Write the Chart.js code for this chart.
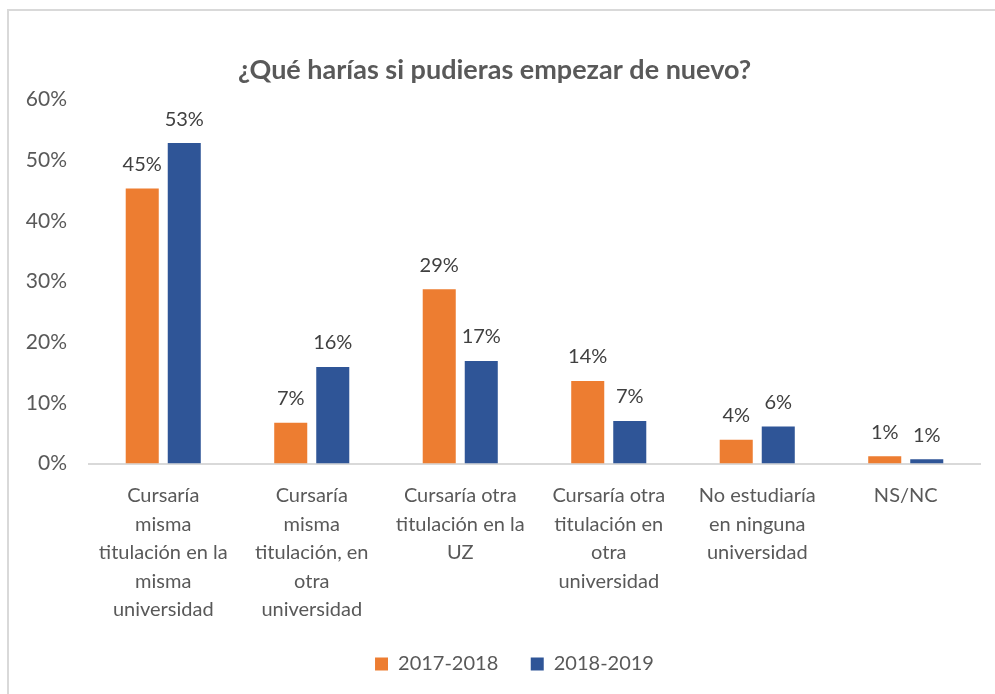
<!DOCTYPE html>
<html>
<head>
<meta charset="utf-8">
<script src="https://cdn.jsdelivr.net/npm/chart.js@4"></script>
<style>
  body { margin: 0; background: #fff; overflow: hidden; }
  #wrap { position: absolute; left: 7px; top: 9px; width: 1000px; height: 700px; border: 2px solid #d9d9d9; box-sizing: border-box; }
</style>
</head>
<body>
<div id="wrap"><canvas id="chart"></canvas></div>
<script>
// Datos del gráfico
const categorias = [
  ['Cursaría', 'misma', 'titulación en la', 'misma', 'universidad'],
  ['Cursaría', 'misma', 'titulación, en', 'otra', 'universidad'],
  ['Cursaría otra', 'titulación en la', 'UZ'],
  ['Cursaría otra', 'titulación en', 'otra', 'universidad'],
  ['No estudiaría', 'en ninguna', 'universidad'],
  ['NS/NC']
];
const curso2017 = [45.3, 6.7, 28.7, 13.6, 3.9, 1.2];
const curso2018 = [52.8, 15.9, 16.9, 7.0, 6.1, 0.7];
const series = ['2017-2018', '2018-2019'];

const gris = '#595959';
const fuente = 'Lato, "Open Sans", sans-serif';

// Etiquetas de datos encima de cada barra
const etiquetas = {
  id: 'etiquetas',
  afterLayout(chart) {
    // la leyenda del original está algo desplazada a la derecha
    chart.legend.left += 20;
    chart.legend.right += 20;
  },
  afterDatasetsDraw(chart) {
    const ctx = chart.ctx;
    ctx.save();
    ctx.font = '20px ' + fuente;
    ctx.fillStyle = '#404040';
    ctx.textAlign = 'center';
    ctx.textBaseline = 'bottom';
    chart.data.datasets.forEach((ds, i) => {
      chart.getDatasetMeta(i).data.forEach((bar, j) => {
        ctx.fillText(Math.round(ds.data[j]) + '%', bar.x, bar.y - 14);
      });
    });
    ctx.restore();
  }
};

new Chart(document.getElementById('chart'), {
  type: 'bar',
  data: {
    labels: categorias,
    datasets: [
      // espacios al final para separar más las dos entradas de la leyenda
      { label: series[0] + '    ', data: curso2017, backgroundColor: '#ED7D31', categoryPercentage: 0.566, barPercentage: 0.786 },
      { label: series[1], data: curso2018, backgroundColor: '#2F5597', categoryPercentage: 0.566, barPercentage: 0.786 }
    ]
  },
  options: {
    responsive: true,
    maintainAspectRatio: false,
    animation: false,
    layout: { padding: { left: 0, right: 25, top: 43, bottom: 23 } },
    plugins: {
      title: {
        display: true,
        text: '¿Qué harías si pudieras empezar de nuevo?',
        color: gris,
        font: { family: fuente, size: 27, weight: 'bold' },
        padding: { top: 0, bottom: 13 }
      },
      legend: {
        position: 'bottom',
        labels: {
          color: gris,
          font: { family: fuente, size: 20 },
          boxWidth: 13,
          boxHeight: 13,
          padding: 12
        }
      },
      tooltip: { enabled: false }
    },
    scales: {
      x: {
        grid: { display: false, drawTicks: false },
        border: { color: '#d9d9d9', width: 2 },
        ticks: { color: gris, font: { family: fuente, size: 20, lineHeight: 1.425 }, padding: 18, maxRotation: 0, autoSkip: false }
      },
      y: {
        min: 0,
        max: 60,
        afterFit: s => { s.width = 80; },
        grid: { display: false, drawTicks: false },
        border: { display: false },
        ticks: { stepSize: 10, color: gris, font: { family: fuente, size: 21 }, padding: 22, callback: v => v + '%' }
      }
    }
  },
  plugins: [etiquetas]
});
</script>
</body>
</html>
